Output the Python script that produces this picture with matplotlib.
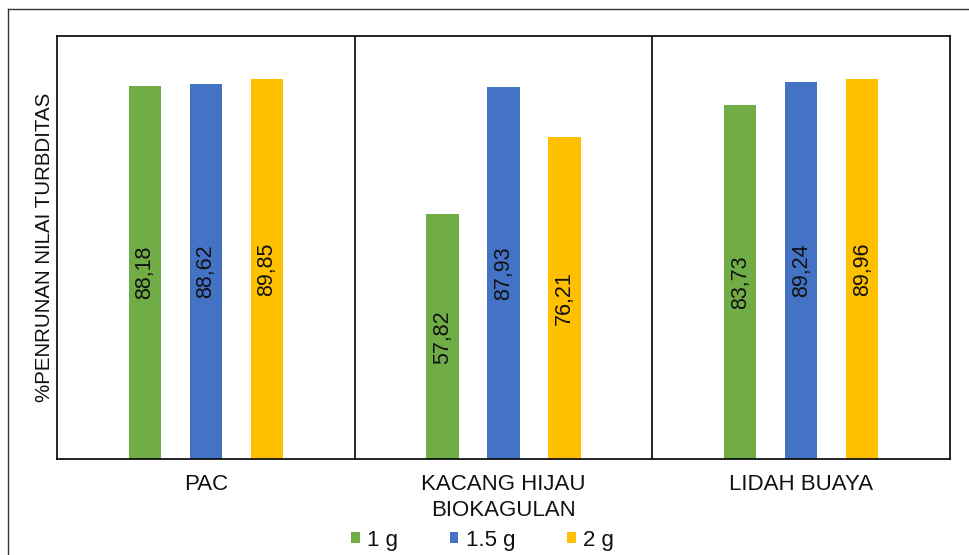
import matplotlib
matplotlib.use("Agg")
import matplotlib.pyplot as plt
from matplotlib.lines import Line2D
import numpy as np

plt.rcParams['font.family'] = ['Liberation Sans', 'DejaVu Sans']

# === Data ===
categories = ["PAC", "KACANG HIJAU\nBIOKAGULAN", "LIDAH BUAYA"]
series = ["1 g", "1.5 g", "2 g"]
values_1g = [88.18, 57.82, 83.73]
values_15g = [88.62, 87.93, 89.24]
values_2g = [89.85, 76.21, 89.96]
colors = ["#70AD47", "#4472C4", "#FFC000"]

# === Figure ===
fig = plt.figure(figsize=(9.69, 5.55), dpi=100)
ax = fig.add_axes([0.0588, 0.173, 0.9216, 0.762])

x = np.arange(len(categories))
offsets = [-0.205, 0.0, 0.205]
width = 0.108

for vals, off, col, name in zip([values_1g, values_15g, values_2g], offsets, colors, series):
    bars = ax.bar(x + off, vals, width=width, color=col, label=name)
    for b, v in zip(bars, vals):
        ax.text(b.get_x() + b.get_width() / 2, v / 2, f"{v:.2f}".replace(".", ","),
                rotation=90, ha="center", va="center", fontsize=15.5, color="#111111")

ax.set_xlim(-0.5, 2.5)
ax.set_ylim(0, 100)
for sep in [0.5, 1.5]:
    ax.axvline(sep, color="black", lw=1.2)
for s in ax.spines.values():
    s.set_color("black")
    s.set_linewidth(1.2)

ax.set_xticks(x)
ax.set_xticklabels(categories, fontsize=16, linespacing=1.3, color="#111111")
ax.tick_params(axis="x", length=0, pad=11)
ax.set_yticks([])
ax.set_ylabel("%PENRUNAN NILAI TURBDITAS", fontsize=14.8, labelpad=2, color="#111111")

fig.legend(loc="center", bbox_to_anchor=(0.498, 0.027), ncol=3, frameon=False,
           fontsize=16, handlelength=0.4, handleheight=0.4, handletextpad=0.35,
           columnspacing=2.3, labelcolor="#111111")

# outer frame (only top and left edges show)
fig.add_artist(Line2D([8 / 969, 8 / 969], [0, 1 - 9 / 555], color="#333333", lw=1))
fig.add_artist(Line2D([8 / 969, 1], [1 - 9 / 555, 1 - 9 / 555], color="#333333", lw=1))

fig.savefig("out.png", dpi=100)
